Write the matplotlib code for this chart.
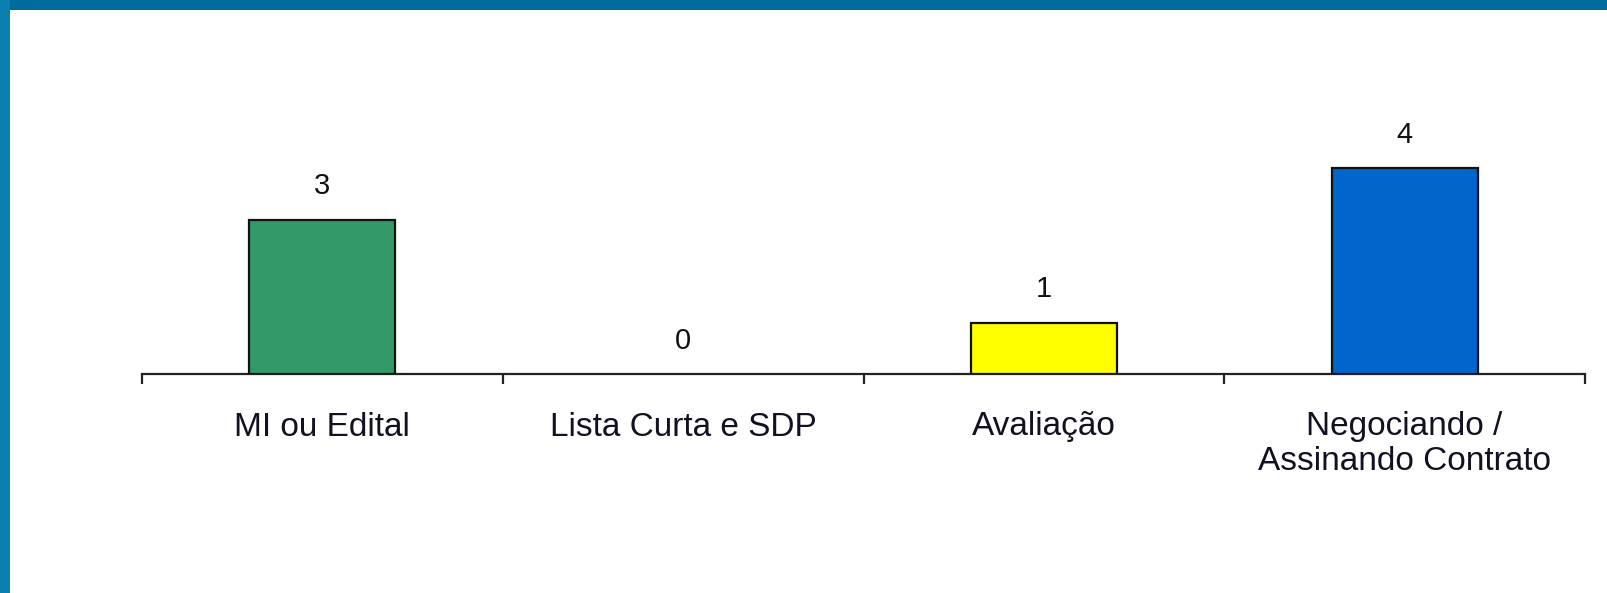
import matplotlib.pyplot as plt
from matplotlib.patches import Rectangle

plt.rcParams['font.family'] = ['Liberation Sans', 'DejaVu Sans']

# dados
categorias = ['MI ou Edital', 'Lista Curta e SDP', 'Avaliação', 'Negociando /\nAssinando Contrato']
valores = [3, 0, 1, 4]
cores = ['#339966', '#339966', '#FFFF00', '#0066CC']

fig = plt.figure(figsize=(16.07, 5.93), dpi=100)
fig.patch.set_facecolor('white')

# moldura azul (topo e esquerda)
fig.patches.append(Rectangle((0, 1 - 10 / 593), 1, 10 / 593, transform=fig.transFigure,
                             facecolor='#006b9c', edgecolor='none', zorder=0))
fig.patches.append(Rectangle((0, 0), 10 / 1607, 1, transform=fig.transFigure,
                             facecolor='#0a7fb0', edgecolor='none', zorder=0))

ax = fig.add_axes([142 / 1607, 219 / 593, 1443 / 1607, 257.5 / 593])
x = range(len(categorias))
larguras_borda = [1.6 if v > 0 else 0 for v in valores]
ax.bar(x, valores, width=0.405, color=cores, edgecolor='#111111',
       linewidth=larguras_borda, zorder=3)

for a, b in zip(x, valores):
    ax.annotate(str(b), (a, b), xytext=(0, 14), textcoords='offset points',
                ha='center', va='bottom', fontsize=21, color='#111111')

ax.set_xlim(-0.5, len(categorias) - 0.5)
ax.set_ylim(0, 5)

for s in ['left', 'top', 'right']:
    ax.spines[s].set_visible(False)
ax.spines['bottom'].set_color('#222222')
ax.spines['bottom'].set_linewidth(1.6)
ax.set_yticks([])

ax.set_xticks(list(x))
ax.set_xticklabels(categorias, fontsize=24, color='#111122', linespacing=1.15)
ax.tick_params(axis='x', which='major', length=0, pad=27)
ax.set_xticks([i - 0.5 for i in range(len(categorias) + 1)], minor=True)
ax.tick_params(axis='x', which='minor', length=7, width=1.6, color='#222222', direction='out')
ax.patch.set_alpha(0)

fig.savefig('out.png', dpi=100)
